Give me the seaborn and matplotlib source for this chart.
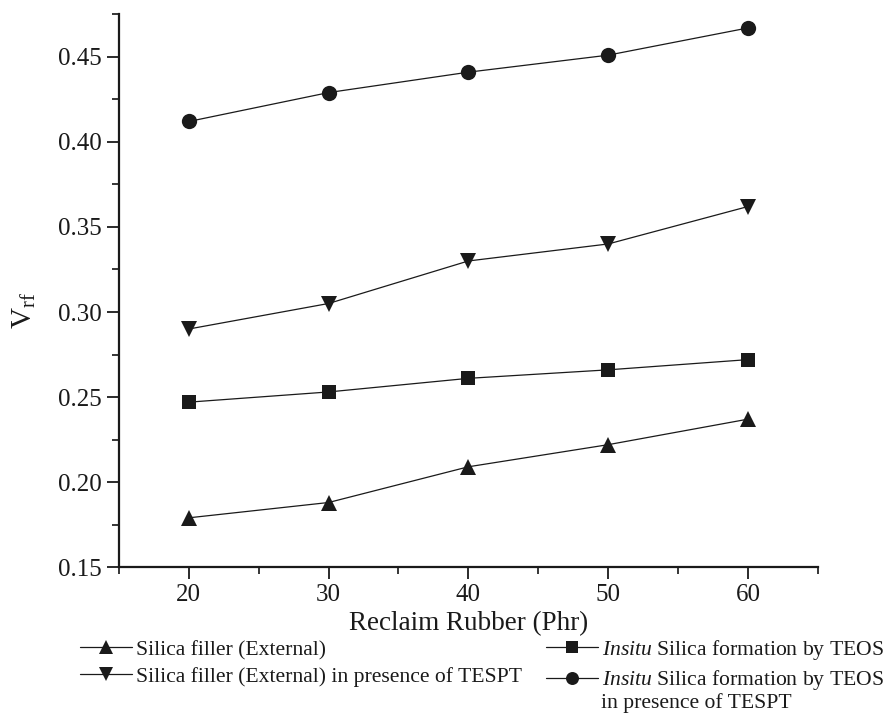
import matplotlib
matplotlib.use("Agg")
import matplotlib.pyplot as plt
from matplotlib.lines import Line2D
from matplotlib.ticker import MultipleLocator, FormatStrFormatter
import seaborn as sns
import pandas as pd

x_phr = [20, 30, 40, 50, 60]
silica_ext = [0.179, 0.188, 0.209, 0.222, 0.237]
silica_ext_tespt = [0.290, 0.305, 0.330, 0.340, 0.362]
insitu_teos = [0.247, 0.253, 0.261, 0.266, 0.272]
insitu_teos_tespt = [0.412, 0.429, 0.441, 0.451, 0.467]

labels = ["Silica filler (External)",
          "Silica filler (External) in presence of TESPT",
          r"$\it{Insitu}$ Silica formation by TEOS",
          r"$\it{Insitu}$ Silica formation by TEOS"]
label_tail = "in presence of TESPT"
series = [silica_ext, silica_ext_tespt, insitu_teos, insitu_teos_tespt]
markers = ["^", "v", "s", "o"]
msizes = [12, 12, 9.5, 11]

sns.set_theme(style="ticks")
plt.rcParams["font.family"] = ["Liberation Serif", "DejaVu Serif"]
plt.rcParams["mathtext.fontset"] = "custom"
plt.rcParams["mathtext.rm"] = "Liberation Serif"
plt.rcParams["mathtext.it"] = "Liberation Serif:italic"

fig = plt.figure(figsize=(8.87, 7.17), dpi=100)
ax = fig.add_axes([0.134, 0.209, 0.788, 0.771])

for vals, m, ms in zip(series, markers, msizes):
    df = pd.DataFrame({"x": x_phr, "y": vals})
    sns.lineplot(data=df, x="x", y="y", ax=ax, color="#1a1a1a", lw=0.9,
                 marker=m, markersize=ms, markeredgewidth=0, legend=False)

ax.set_xlim(15, 65)
ax.set_ylim(0.15, 0.475)
ax.xaxis.set_major_locator(MultipleLocator(10))
ax.xaxis.set_minor_locator(MultipleLocator(5))
ax.yaxis.set_major_locator(MultipleLocator(0.05))
ax.yaxis.set_minor_locator(MultipleLocator(0.025))
ax.yaxis.set_major_formatter(FormatStrFormatter("%.2f"))
ax.tick_params(which="major", length=8.5, width=1.3, direction="out", labelsize=18, colors="#1a1a1a")
ax.tick_params(which="minor", length=5, width=1.3, direction="out")
for s in ["top", "right"]:
    ax.spines[s].set_visible(False)
for s in ["left", "bottom"]:
    ax.spines[s].set_linewidth(1.6)
    ax.spines[s].set_color("#1a1a1a")

ax.set_xlabel("Reclaim Rubber (Phr)", fontsize=19.5, labelpad=4, color="#1a1a1a")
ax.set_ylabel(r"V$_{\mathregular{rf}}$", fontsize=21, color="#1a1a1a")
ax.yaxis.set_label_coords(-0.115, 0.465)

handles = [Line2D([], [], color="#1a1a1a", lw=0.9, marker=m, markersize=ms * 0.85,
                  markeredgewidth=0) for m, ms in zip(markers, msizes)]
fig.legend(handles, labels, ncol=2, loc="upper left", bbox_to_anchor=(80 / 887, 1 - 638 / 717),
           frameon=False, fontsize=15.6, handlelength=2.4, handletextpad=0.2,
           columnspacing=1.1, labelspacing=0.3, borderpad=0, borderaxespad=0,
           labelcolor="#1a1a1a")
fig.text(601 / 887, 1 - 703 / 717, label_tail, fontsize=15.6, va="center", ha="left",
         color="#1a1a1a")

fig.savefig("out.png", dpi=100)
